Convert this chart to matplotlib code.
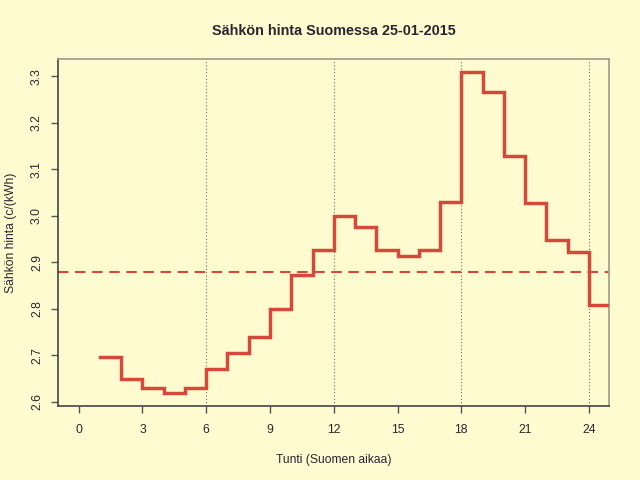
import matplotlib
matplotlib.use("Agg")
import matplotlib.pyplot as plt
import numpy as np

plt.rcParams['font.family'] = ['Liberation Sans', 'DejaVu Sans']

hours = list(range(1, 26))
prices = [2.695, 2.649, 2.629, 2.618, 2.629, 2.670, 2.704, 2.739, 2.799, 2.872,
          2.927, 2.999, 2.975, 2.926, 2.914, 2.927, 3.030, 3.309, 3.266, 3.128,
          3.026, 2.948, 2.922, 2.807]
xticks = [0, 3, 6, 9, 12, 15, 18, 21, 24]
yticks = [2.6, 2.7, 2.8, 2.9, 3.0, 3.1, 3.2, 3.3]
vlines = [6, 12, 18, 24]
title = "Sähkön hinta Suomessa 25-01-2015"
xlabel = "Tunti (Suomen aikaa)"
ylabel = "Sähkön hinta (c/(kWh)"

bg = '#FFFBD0'
red = '#D5493A'
txt = '#2a2630'

fig = plt.figure(figsize=(6.4, 4.8), dpi=100, facecolor=bg)
ax = fig.add_axes([0.091, 0.154, 0.861, 0.723])
ax.set_facecolor(bg)

for v in vlines:
    ax.axvline(v, color='#6e6a60', lw=0.8, ls=(0, (1, 2)), zorder=1)

yvals = prices + [prices[-1]]
ax.step(hours, yvals, where='post', color=red, lw=2.5, solid_joinstyle='miter', zorder=3)
ax.axhline(np.mean(prices), color=red, lw=1.5, ls=(0, (5, 3.2)), zorder=2)

ymin, ymax = min(prices), max(prices)
r = ymax - ymin
ax.set_ylim(ymin - 0.04 * r, ymax + 0.04 * r)
ax.set_xlim(0 - 0.04 * 24, 24 + 0.04 * 24)

ax.set_xticks(xticks)
ax.set_xticklabels([str(t) for t in xticks])
ax.set_yticks(yticks)
ax.set_yticklabels([f"{t:.1f}" for t in yticks], rotation=90, va='center')

ax.tick_params(axis='both', direction='out', length=5, width=1, color='#555555',
               labelcolor=txt, labelsize=8.7)
ax.tick_params(axis='x', pad=8)
ax.tick_params(axis='y', pad=6)
for s in ['left', 'bottom']:
    ax.spines[s].set_color('#444444')
    ax.spines[s].set_linewidth(1.2)
for s in ['top', 'right']:
    ax.spines[s].set_color('#a09a88')
    ax.spines[s].set_linewidth(1.2)

ax.set_title(title, fontsize=10.4, fontweight='bold', color=txt, pad=17)
ax.set_xlabel(xlabel, fontsize=8.7, color=txt, labelpad=13)
ax.set_ylabel(ylabel, fontsize=8.7, color=txt, labelpad=10)

fig.savefig('out.png', dpi=100, facecolor=bg)
